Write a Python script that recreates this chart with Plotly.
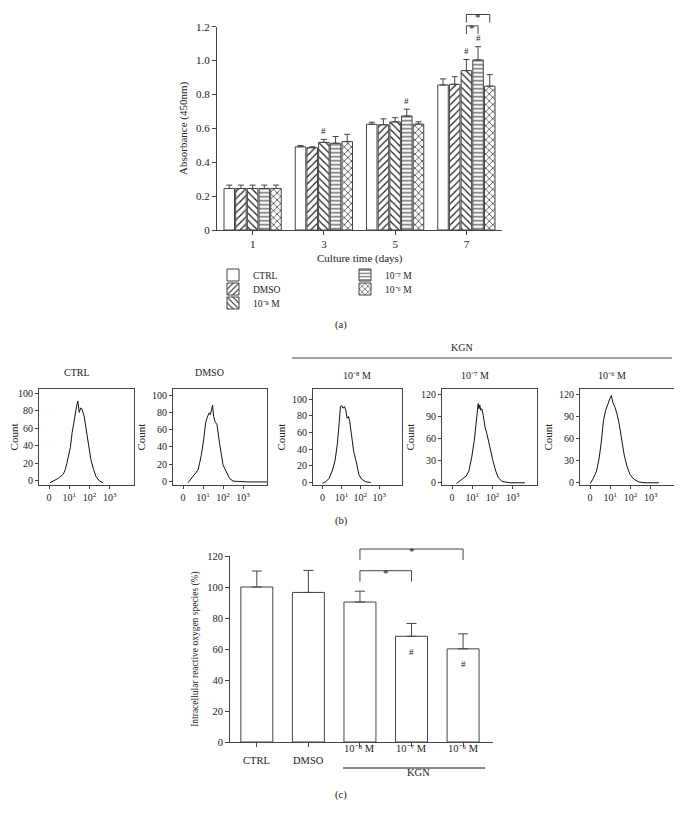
import plotly.graph_objects as go

# page body has an 8px default margin: the figure is sized to fit the window exactly
OFF = 8
W, H = 682 - OFF, 824 - OFF
FONT = "Liberation Serif"
TXT = "#222222"
LINE = "#444444"

# ---------------- Panel (a) data ----------------
days = ["1", "3", "5", "7"]
series_names = ["CTRL", "DMSO", "10⁻⁸ M", "10⁻⁷ M", "10⁻⁶ M"]
absorb_ctrl = [0.245, 0.491, 0.624, 0.856]
absorb_dmso = [0.245, 0.486, 0.621, 0.860]
absorb_e8 = [0.245, 0.517, 0.638, 0.941]
absorb_e7 = [0.245, 0.512, 0.673, 1.004]
absorb_e6 = [0.245, 0.522, 0.625, 0.849]
err_ctrl = [0.020, 0.008, 0.012, 0.036]
err_dmso = [0.020, 0.005, 0.035, 0.045]
err_e8 = [0.020, 0.018, 0.025, 0.065]
err_e7 = [0.020, 0.040, 0.040, 0.078]
err_e6 = [0.020, 0.043, 0.014, 0.068]
patterns = ["", "/", "\\", "-", "x"]
a_yticks = [0, 0.2, 0.4, 0.6, 0.8, 1.0, 1.2]
a_yticktext = ["0", "0.2", "0.4", "0.6", "0.8", "1.0", "1.2"]
# '#' marks: (day index, series index)
a_hash = [(1, 2), (2, 3), (3, 2), (3, 3)]
# significance brackets at day 7: (series i, series j, bracket level)
a_sig = [(2, 3, 1.205), (2, 4, 1.272)]

# ---------------- Panel (b) data ----------------
hist_titles = ["CTRL", "DMSO", "10⁻⁸ M", "10⁻⁷ M", "10⁻⁶ M"]
hist_ctrl_x = [0.04, 0.20, 0.46, 0.71, 0.80, 0.88, 0.97, 1.05, 1.14, 1.22, 1.30, 1.36, 1.42, 1.49,
               1.56, 1.62, 1.73, 1.81, 1.90, 1.98, 2.07, 2.20, 2.32, 2.49, 2.66]
hist_ctrl_y = [-2, 0, 3, 8, 13, 20, 30, 38, 55, 68, 78, 85, 91, 78, 83, 82, 74, 62, 51, 36, 24,
               13, 5, 0, -2]
hist_dmso_x = [0.25, 0.42, 0.58, 0.75, 0.83, 0.92, 1.03, 1.13, 1.20, 1.30, 1.37, 1.43, 1.48, 1.53,
               1.60, 1.70, 1.75, 1.83, 1.92, 2.00, 2.08, 2.20, 2.33, 2.50, 3.2, 4.2]
hist_dmso_y = [-2, 3, 8, 13, 21, 31, 48, 68, 74, 80, 78, 84, 89, 76, 70, 66, 56, 44, 31, 19, 15, 9,
               3, 0, -1, -1]
hist_e8_x = [0.0, 0.18, 0.35, 0.53, 0.67, 0.79, 0.88, 0.95, 1.02, 1.09, 1.16, 1.23, 1.30, 1.37,
             1.44, 1.55, 1.65, 1.76, 1.84, 1.93, 2.07, 2.28, 2.55]
hist_e8_y = [-1, 1, 5, 15, 27, 47, 71, 91, 92, 89, 91, 87, 77, 79, 73, 55, 37, 27, 17, 9, 4, 1, 0]
hist_e7_x = [0.21, 0.39, 0.57, 0.69, 0.83, 0.97, 1.10, 1.19, 1.26, 1.29, 1.33, 1.37, 1.42, 1.47,
             1.54, 1.63, 1.72, 1.79, 1.90, 2.02, 2.16, 2.29, 2.46, 2.87, 3.6]
hist_e7_y = [-1, 3, 7, 9, 16, 35, 58, 85, 104, 108, 101, 106, 99, 101, 92, 76, 67, 58, 46, 30, 16,
             7, 2, 0, 0]
hist_e6_x = [0.0, 0.14, 0.32, 0.45, 0.56, 0.66, 0.77, 0.87, 0.98, 1.05, 1.12, 1.23, 1.33, 1.44,
             1.54, 1.68, 1.82, 1.98, 2.16, 2.42, 2.77, 3.4]
hist_e6_y = [-1, 5, 16, 34, 57, 85, 99, 108, 115, 119, 110, 103, 94, 80, 62, 39, 23, 11, 5, 1, 0, 0]
hist_x_list = [hist_ctrl_x, hist_dmso_x, hist_e8_x, hist_e7_x, hist_e6_x]
hist_y_list = [hist_ctrl_y, hist_dmso_y, hist_e8_y, hist_e7_y, hist_e6_y]
hist_yranges = [[-4.6, 104.6], [-4.6, 108], [-3, 112], [-3, 128], [-3, 128]]
hist_yticks = [[0, 20, 40, 60, 80, 100], [0, 20, 40, 60, 80, 100], [0, 20, 40, 60, 80, 100],
               [0, 30, 60, 90, 120], [0, 30, 60, 90, 120]]
hist_xticks = [0, 1, 2, 3]
hist_xticktext = ["0", "10<sup>1</sup>", "10<sup>2</sup>", "10<sup>3</sup>"]

# ---------------- Panel (c) data ----------------
ros_groups = ["CTRL", "DMSO", "10⁻⁸ M", "10⁻⁷ M", "10⁻⁶ M"]
ros_values = [100.0, 96.5, 90.3, 68.2, 60.1]
ros_err = [10.3, 14.2, 7.0, 8.3, 9.7]
ros_hash = [3, 4]
ros_sig = [(2, 3, 110.5), (2, 4, 124.5)]

# ---------------- helpers (screen pixel -> paper) ----------------
def px(p):
    return (p - OFF) / W

def py(p):
    return 1 - (p - OFF) / H

def to_paper(v, dom, rng):
    return dom[0] + (v - rng[0]) / (rng[1] - rng[0]) * (dom[1] - dom[0])

def font(size):
    return dict(family=FONT, size=size, color=TXT)

STAR_LIFT = 6 / H  # top of the star's text box sits this far above its bracket

fig = go.Figure()
annotations = []
shapes = []

def axis_common(tsize):
    return dict(showgrid=False, zeroline=False, showline=True, linecolor=LINE, linewidth=1,
                ticks="outside", tickcolor=LINE, tickfont=font(tsize), automargin=False)

# ================= Panel (a) =================
A_DX = [px(217), px(502)]
A_DY = [py(230), py(26.7)]
A_RNG = [0, 1.2]
BARGAP = 0.18
a_vals = [absorb_ctrl, absorb_dmso, absorb_e8, absorb_e7, absorb_e6]
a_errs = [err_ctrl, err_dmso, err_e8, err_e7, err_e6]
legend_ids = ["legend", "legend2", "legend3", "legend4", "legend5"]
for k in range(5):
    fig.add_trace(go.Bar(
        x=days, y=a_vals[k], name=series_names[k], xaxis="x", yaxis="y",
        marker=dict(color="white", line=dict(color=LINE, width=1),
                    pattern=dict(shape=patterns[k], fgcolor="#222", bgcolor="white",
                                 size=5 if patterns[k] != "-" else 4, solidity=0.25)),
        error_y=dict(type="data", array=a_errs[k], arrayminus=[0] * 4, symmetric=False,
                     color=LINE, thickness=1, width=3),
        legend=legend_ids[k], hoverinfo="skip"))

slot = (1 - BARGAP) / 5

def a_xpos(day_i, ser_k):
    return day_i + (ser_k - 2) * slot

for (di, sk) in a_hash:
    top = a_vals[sk][di] + a_errs[sk][di]
    annotations.append(dict(x=a_xpos(di, sk), y=top + 0.01, xref="x", yref="y", text="#",
                            showarrow=False, yanchor="bottom", font=font(9)))

for (i, j, lvl) in a_sig:
    y_top = to_paper(lvl, A_DY, A_RNG)
    y_bot = to_paper(lvl - 0.048, A_DY, A_RNG)
    x1, x2 = a_xpos(3, i), a_xpos(3, j)
    for (xa0, xa1, ya0, ya1) in [(x1, x1, y_bot, y_top), (x1, x2, y_top, y_top),
                                 (x2, x2, y_bot, y_top)]:
        shapes.append(dict(type="line", xref="x", yref="paper", x0=xa0, x1=xa1, y0=ya0, y1=ya1,
                           line=dict(color=LINE, width=1)))
    annotations.append(dict(x=(x1 + x2) / 2, y=y_top + STAR_LIFT, xref="x", yref="paper",
                            text="*", showarrow=False, yanchor="top", font=font(11)))

fig.update_layout(
    xaxis=dict(domain=A_DX, anchor="y", range=[-0.5, 3.5], type="category",
               **axis_common(11), ticklen=4),
    yaxis=dict(domain=A_DY, anchor="x", range=A_RNG, tickvals=a_yticks, ticktext=a_yticktext,
               **axis_common(11), ticklen=4,
               title=dict(text="Absorbance (450nm)", font=font(11), standoff=6)),
)
annotations.append(dict(x=(A_DX[0] + A_DX[1]) / 2, y=py(250), xref="paper", yref="paper",
                        text="Culture time (days)", showarrow=False, font=font(11)))

# legend rows (one legend per entry to match the compact two-column layout)
legend_pos = [(213, 275), (213, 289), (213, 303), (345, 275), (345, 289)]
legend_layout = {}
for k in range(5):
    legend_layout[legend_ids[k]] = dict(
        x=px(legend_pos[k][0]), y=py(legend_pos[k][1]), xanchor="left", yanchor="middle",
        bgcolor="rgba(0,0,0,0)", font=font(9.5), itemwidth=30, borderwidth=0)

# ================= Panel (b) =================
box_x = [(39, 134), (173, 267), (313, 402), (442, 537), (580, 675)]
B_DY = [py(485), py(389)]
for n in range(5):
    xa = f"x{n + 2}"
    ya = f"y{n + 2}"
    fig.add_trace(go.Scatter(x=hist_x_list[n], y=hist_y_list[n], mode="lines", xaxis=xa, yaxis=ya,
                             line=dict(color="#111", width=1), showlegend=False, hoverinfo="skip"))
    fig.layout[f"xaxis{n + 2}"] = dict(
        domain=[px(box_x[n][0]), px(box_x[n][1])], anchor=ya, range=[-0.5, 4.2],
        tickvals=hist_xticks, ticktext=hist_xticktext, mirror=True, ticklen=3,
        **axis_common(10))
    fig.layout[f"yaxis{n + 2}"] = dict(
        domain=B_DY, anchor=xa, range=hist_yranges[n], tickvals=hist_yticks[n], mirror=True,
        ticklen=3, **axis_common(10),
        title=dict(text="Count", font=font(11), standoff=4))

title_pos = [(62, 372), (193, 372), (357, 376), (491, 376), (628, 376)]
for n in range(5):
    annotations.append(dict(x=px(title_pos[n][0]), y=py(title_pos[n][1]), xref="paper",
                            yref="paper", text=hist_titles[n], showarrow=False, font=font(10)))
annotations.append(dict(x=px(475), y=py(347), xref="paper", yref="paper", text="KGN",
                        showarrow=False, font=font(10)))
shapes.append(dict(type="line", xref="paper", yref="paper", x0=px(292), x1=px(672), y0=py(358),
                   y1=py(358), line=dict(color=LINE, width=1)))

# ================= Panel (c) =================
C_DX = [px(230), px(493)]
C_DY = [py(742), py(556)]
C_RNG = [0, 120]
fig.add_trace(go.Bar(
    x=list(range(5)), y=ros_values, xaxis="x7", yaxis="y7", width=0.62, showlegend=False,
    marker=dict(color="white", line=dict(color=LINE, width=1)),
    error_y=dict(type="data", array=ros_err, arrayminus=[0] * 5, symmetric=False, color=LINE,
                 thickness=1, width=5), hoverinfo="skip"))
fig.layout["xaxis7"] = dict(domain=C_DX, anchor="y7", range=[-0.52, 4.58], tickvals=list(range(5)),
                            showticklabels=False, ticklen=4, **axis_common(10))
fig.layout["yaxis7"] = dict(domain=C_DY, anchor="x7", range=C_RNG,
                            tickvals=[0, 20, 40, 60, 80, 100, 120], ticklen=4, **axis_common(10.5),
                            title=dict(text="Intracellular reactive oxygen species (%)",
                                       font=font(9.5), standoff=6))
for i in range(5):
    ylab = py(768) if i < 2 else py(756)
    annotations.append(dict(x=i, y=ylab, xref="x7", yref="paper", text=ros_groups[i],
                            showarrow=False, font=font(10.5)))
shapes.append(dict(type="line", xref="paper", yref="paper", x0=px(343), x1=px(485), y0=py(768),
                   y1=py(768), line=dict(color="#111", width=1)))
annotations.append(dict(x=px(418), y=py(780), xref="paper", yref="paper", text="KGN",
                        showarrow=False, font=font(10.5)))
for i in ros_hash:
    annotations.append(dict(x=i, y=ros_values[i] - 10, xref="x7", yref="y7", text="#",
                            showarrow=False, font=font(9)))
for (i, j, lvl) in ros_sig:
    y_top = to_paper(lvl, C_DY, C_RNG)
    y_bot = to_paper(lvl - 7, C_DY, C_RNG)
    for (xa0, xa1, ya0, ya1) in [(i, i, y_bot, y_top), (i, j, y_top, y_top), (j, j, y_bot, y_top)]:
        shapes.append(dict(type="line", xref="x7", yref="paper", x0=xa0, x1=xa1, y0=ya0, y1=ya1,
                           line=dict(color=LINE, width=1)))
    annotations.append(dict(x=(i + j) / 2, y=y_top + STAR_LIFT, xref="x7", yref="paper",
                            text="*", showarrow=False, yanchor="top", font=font(11)))

# panel labels
for lab, yy in [("(a)", 325), ("(b)", 521), ("(c)", 803)]:
    annotations.append(dict(x=px(341), y=py(yy), xref="paper", yref="paper", text=lab,
                            showarrow=False, font=font(10.5)))

fig.update_layout(
    template="none",
    width=W, height=H, margin=dict(l=0, r=0, t=0, b=0, autoexpand=False), paper_bgcolor="white",
    plot_bgcolor="white", barmode="group", bargap=BARGAP, bargroupgap=0.1,
    font=font(10),
    annotations=annotations, shapes=shapes,
    **legend_layout,
)

fig.write_html("out.html")
